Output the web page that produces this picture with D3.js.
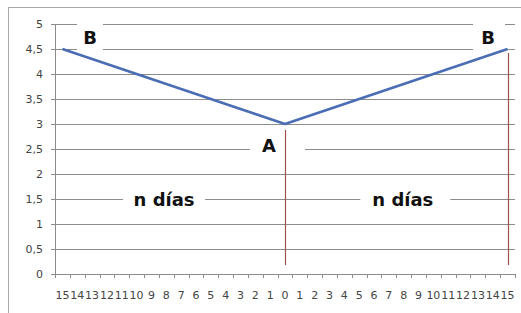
<!DOCTYPE html>
<html lang="es">
<head>
<meta charset="UTF-8" />
<title>n días</title>
<script src="https://d3js.org/d3.v7.min.js"></script>
<style>
  body { margin: 0; background: #fff; }
  svg { display: block; }
</style>
</head>
<body>
<div id="chart"></div>
<script>
// category labels (days before / after A)
const dayLabels = ["15","14","13","12","11","10","9","8","7","6","5","4","3","2","1","0",
                   "1","2","3","4","5","6","7","8","9","10","11","12","13","14","15"];
const values = [4.5,4.4,4.3,4.2,4.1,4.0,3.9,3.8,3.7,3.6,3.5,3.4,3.3,3.2,3.1,3.0,
                3.1,3.2,3.3,3.4,3.5,3.6,3.7,3.8,3.9,4.0,4.1,4.2,4.3,4.4,4.5];
const yTicks = [0, 0.5, 1, 1.5, 2, 2.5, 3, 3.5, 4, 4.5, 5];

// drawn marker lines: category index, from value, to value
const markerIdx = [15, 30];
const markerFrom = [2.88, 4.42];
const markerTo = [0.18, 0.18];

// text labels: text, category position, value
const noteText = ["B", "B", "A", "n días", "n días"];
const notePos = [1.86, 28.68, 13.92, 6.85, 22.94];
const noteVal = [4.72, 4.72, 2.57, 1.48, 1.48];

const W = 521, H = 313;
const margin = { left: 55, top: 24, right: 6, bottom: 39 };
const width = W - margin.left - margin.right;
const height = H - margin.top - margin.bottom;

const svg = d3.select('#chart').append('svg')
  .attr('width', W)
  .attr('height', H);

// outer chart frame
svg.append('rect')
  .attr('x', 8.5).attr('y', 7.5)
  .attr('width', 540).attr('height', 340)
  .attr('fill', 'none')
  .attr('stroke', '#a8a8a8');

const g = svg.append('g')
  .attr('transform', `translate(${margin.left},${margin.top})`);

const x = d3.scaleBand()
  .domain(d3.range(dayLabels.length))
  .range([0, width]);

const y = d3.scaleLinear()
  .domain([0, 5])
  .range([height, 0]);

// fractional category position -> pixel
const xc = d3.scaleLinear()
  .domain([0, dayLabels.length - 1])
  .range([x(0) + x.bandwidth() / 2, x(dayLabels.length - 1) + x.bandwidth() / 2]);

// gridlines
g.selectAll('.grid')
  .data(yTicks.filter(d => d > 0))
  .enter()
  .append('line')
    .attr('x1', 0)
    .attr('x2', width)
    .attr('y1', d => Math.round(y(d)) + 0.5)
    .attr('y2', d => Math.round(y(d)) + 0.5)
    .attr('stroke', '#8c8c8c')
    .attr('stroke-width', 1.2);

// y axis
const yAxis = g.append('g')
  .call(d3.axisLeft(y).tickValues(yTicks).tickSize(4).tickPadding(8)
    .tickFormat(d => String(d).replace('.', ',')));
yAxis.select('.domain').attr('stroke', '#8c8c8c').attr('d', `M0.5,0V${height}`);
yAxis.selectAll('.tick line').attr('stroke', '#8c8c8c');
yAxis.selectAll('text')
  .attr('fill', '#444')
  .style('font-family', '"DejaVu Sans", Verdana, sans-serif')
  .style('font-size', '11px');

// x axis: ticks between categories
const xAxis = g.append('g')
  .attr('transform', `translate(0,${height})`);
xAxis.append('line')
  .attr('x1', 0).attr('x2', width)
  .attr('y1', 0.5).attr('y2', 0.5)
  .attr('stroke', '#8c8c8c');
xAxis.selectAll('.xt')
  .data(d3.range(dayLabels.length + 1))
  .enter()
  .append('line')
    .attr('x1', d => Math.round(d * x.step()) + 0.5)
    .attr('x2', d => Math.round(d * x.step()) + 0.5)
    .attr('y1', 0)
    .attr('y2', 4)
    .attr('stroke', '#8c8c8c');
xAxis.selectAll('.xl')
  .data(dayLabels)
  .enter()
  .append('text')
    .attr('x', (d, i) => x(i) + x.bandwidth() / 2)
    .attr('y', 25)
    .attr('text-anchor', 'middle')
    .attr('fill', '#444')
    .style('font-family', '"DejaVu Sans", Verdana, sans-serif')
    .style('font-size', '11px')
    .text(d => d);

// white boxes behind the labels (they hide the gridlines)
const boxPad = [[6, 6, 16, 13], [9, 11, 16, 13], [12, 29, 8, 9], [10, 10, 8, 9], [12, 17, 8, 9]];
const noteW = [14, 12, 14, 62, 61];
g.selectAll('.box')
  .data(noteText)
  .enter()
  .append('rect')
    .attr('x', (d, i) => xc(notePos[i]) - noteW[i] / 2 - boxPad[i][0])
    .attr('y', (d, i) => y(noteVal[i]) - boxPad[i][2])
    .attr('width', (d, i) => noteW[i] + boxPad[i][0] + boxPad[i][1])
    .attr('height', (d, i) => boxPad[i][2] + boxPad[i][3])
    .attr('fill', '#fff');

// series line
const line = d3.line()
  .x((d, i) => x(i) + x.bandwidth() / 2)
  .y(d => y(d));

g.append('path')
  .datum(values)
  .attr('d', line)
  .attr('fill', 'none')
  .attr('stroke', '#4a6db3')
  .attr('stroke-width', 2.6)
  .attr('stroke-linejoin', 'round');

// marker lines
g.selectAll('.marker')
  .data(markerIdx)
  .enter()
  .append('line')
    .attr('x1', d => Math.round(x(d) + x.bandwidth() / 2) + 0.5)
    .attr('x2', d => Math.round(x(d) + x.bandwidth() / 2) + 0.5)
    .attr('y1', (d, i) => y(markerFrom[i]))
    .attr('y2', (d, i) => y(markerTo[i]))
    .attr('stroke', '#a0504e')
    .attr('stroke-width', 1.2);

// labels
g.selectAll('.note')
  .data(noteText)
  .enter()
  .append('text')
    .attr('x', (d, i) => xc(notePos[i]))
    .attr('y', (d, i) => y(noteVal[i]))
    .attr('dy', '0.36em')
    .attr('text-anchor', 'middle')
    .attr('fill', '#111')
    .style('font-family', '"DejaVu Sans", Verdana, sans-serif')
    .style('font-weight', 'bold')
    .style('font-size', '18px')
    .text(d => d);
</script>
</body>
</html>
